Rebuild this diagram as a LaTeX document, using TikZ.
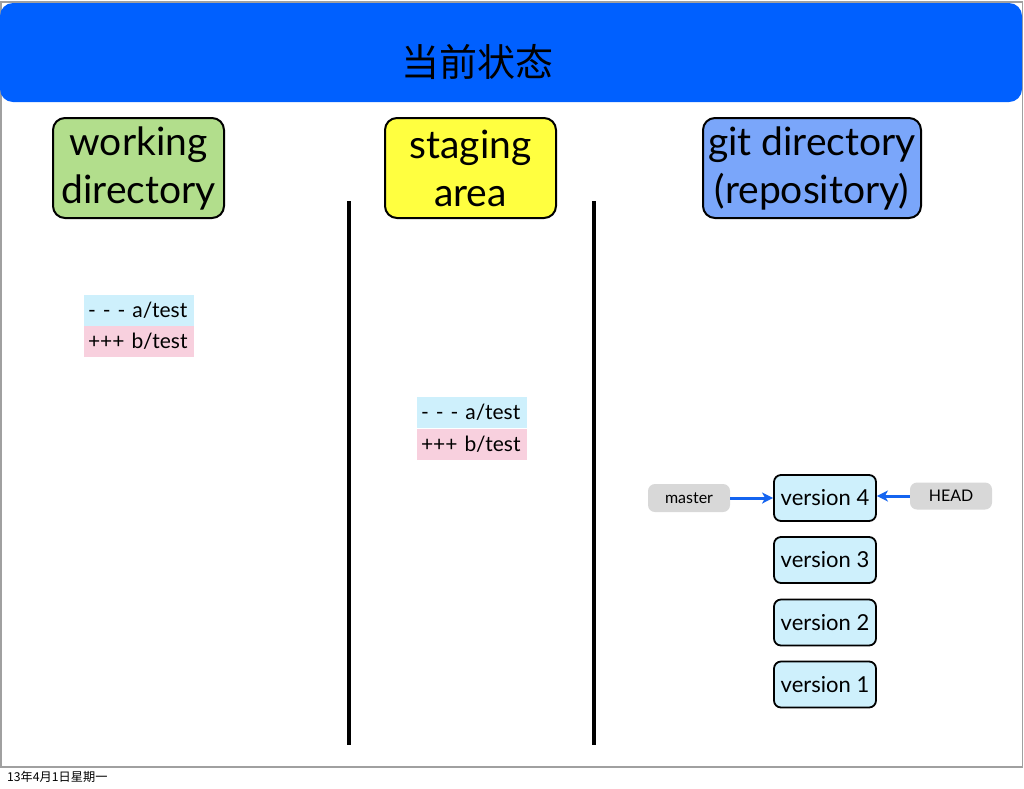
\documentclass[tikz,border=0pt]{standalone}
\usepackage{fontspec}
\setmainfont{Lato}
\newfontfamily\cjk{Noto Sans CJK SC}
\usetikzlibrary{arrows.meta}
\definecolor{banner}{RGB}{0,96,255}
\definecolor{wdgreen}{RGB}{178,222,140}
\definecolor{sayellow}{RGB}{255,255,64}
\definecolor{gitblue}{RGB}{122,166,250}
\definecolor{vercyan}{RGB}{206,240,252}
\definecolor{diffpink}{RGB}{248,208,222}
\definecolor{lblgray}{RGB}{216,216,216}
\definecolor{arrblue}{RGB}{20,100,240}
\definecolor{framegray}{RGB}{160,160,160}
\tikzset{
  areabox/.style={draw=black, line width=2pt, rounded corners=12pt, align=center, inner sep=0pt,
    minimum height=100pt, font=\fontsize{39}{48}\selectfont},
  verbox/.style={draw=black, line width=1.8pt, rounded corners=7pt, fill=vercyan, inner sep=0pt,
    minimum width=102pt, minimum height=46pt, font=\fontsize{22}{24}\selectfont},
  lblbox/.style={fill=lblgray, rounded corners=7pt, inner sep=0pt, minimum width=82pt,
    minimum height=27pt, font=\fontsize{16}{18}\selectfont},
  diffminus/.style={fill=vercyan, inner sep=0pt, minimum width=110pt, minimum height=31pt,
    font=\fontsize{21}{22}\selectfont, text width=102pt, align=left},
  diffplus/.style={fill=diffpink, inner sep=0pt, minimum width=110pt, minimum height=31pt,
    font=\fontsize{21}{22}\selectfont, text width=102pt, align=left},
  divider/.style={line width=3.5pt, black},
  ptr/.style={draw=arrblue, line width=3pt, -{Stealth[length=11pt,width=11pt,inset=3pt]}}
}
\begin{document}
\begin{tikzpicture}[x=1pt,y=-1pt]
\useasboundingbox (0,0) rectangle (1024,788);
\fill[white] (0,0) rectangle (1024,788);
% slide frame
\draw[framegray, line width=1.5pt] (0.75,2) rectangle (1022.5,767);
% banner
\fill[banner, rounded corners=13pt] (0,3) rectangle (1022,102);
\node[font=\cjk\fontsize{38}{40}\selectfont] (title) at (477,62) {当前状态};
% area headers
\node[areabox, fill=wdgreen, minimum width=171pt] (wd) at (138.5,168) {working\\directory};
\node[areabox, fill=sayellow, minimum width=171pt] (sa) at (470.5,168) {staging\\area};
\node[areabox, fill=gitblue, minimum width=218pt] (git) at (812,168) {git directory\\(repository)};
% dividers
\coordinate (d1t) at (349,201); \coordinate (d1b) at (349,745);
\coordinate (d2t) at (594,201); \coordinate (d2b) at (594,745);
\draw[divider] (d1t) -- (d1b);
\draw[divider] (d2t) -- (d2b);
% diffs
\node[diffminus] (wdm) at (139,310.5) {- - - a/test};
\node[diffplus] (wdp) at (139,341.5) {+++ b/test};
\node[diffminus] (sam) at (472,412.5) {- - - a/test};
\node[diffplus] (sap) at (472,444) {+++ b/test};
% versions
\node[verbox] (v4) at (825,498) {version 4};
\node[verbox] (v3) at (825,560) {version 3};
\node[verbox] (v2) at (825,622.5) {version 2};
\node[verbox] (v1) at (825,684.5) {version 1};
% labels
\node[lblbox, minimum height=28pt] (master) at (689,498) {master};
\node[lblbox] (head) at (951,496) {HEAD};
\draw[ptr] (master.east) -- (master.east -| v4.west);
\draw[ptr] (head.west) -- (head.west -| v4.east);
% date
\node[font=\cjk\fontsize{12.2}{15}\selectfont, anchor=west, inner sep=0pt] (date) at (7,777) {13年4月1日星期一};
\end{tikzpicture}
\end{document}
